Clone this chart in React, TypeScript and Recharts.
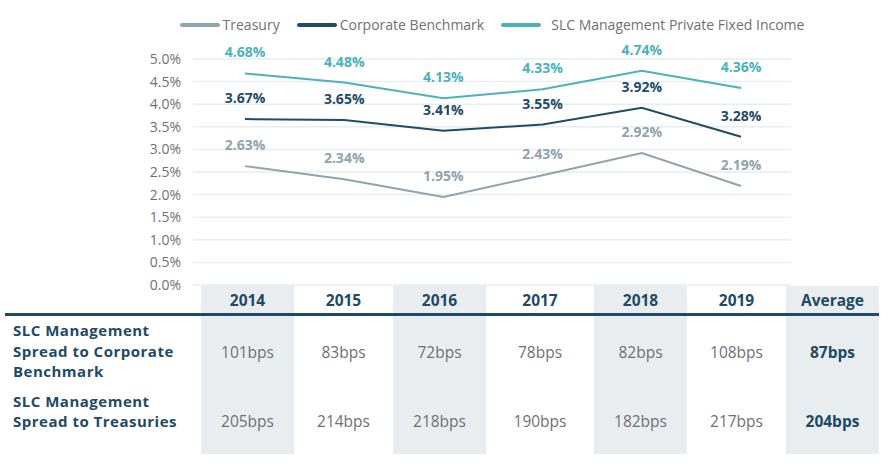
import { CartesianGrid, LabelList, Line, LineChart, XAxis, YAxis } from 'recharts';

const years = ['2014', '2015', '2016', '2017', '2018', '2019'];
const treasury = [2.63, 2.34, 1.95, 2.43, 2.92, 2.19];
const corporate = [3.67, 3.65, 3.41, 3.55, 3.92, 3.28];
const slcPrivate = [4.68, 4.48, 4.13, 4.33, 4.74, 4.36];
const yTicks = [0, 0.5, 1, 1.5, 2, 2.5, 3, 3.5, 4, 4.5, 5];

const tableColumns = [...years, 'Average'];
const spreadToCorporate = [101, 83, 72, 78, 82, 108, 87];
const spreadToTreasuries = [205, 214, 218, 190, 182, 217, 204];
const rowLabels = [
  ['SLC Management', 'Spread to Corporate', 'Benchmark'],
  ['SLC Management', 'Spread to Treasuries'],
];

const navy = '#1e4a66';
const grayText = '#6f7072';
const shade = '#e9edf0';
const font = '"Open Sans", "DejaVu Sans", sans-serif';

const series = [
  { key: 'treasury', name: 'Treasury', color: '#8fa4ac', values: treasury },
  { key: 'corporate', name: 'Corporate Benchmark', color: '#1f4b68', values: corporate },
  { key: 'slc', name: 'SLC Management Private Fixed Income', color: '#4bb2bd', values: slcPrivate },
];

const chartData = years.map((year, i) => ({
  year,
  treasury: treasury[i],
  corporate: corporate[i],
  slc: slcPrivate[i],
}));

// column widths of the table under the plot (label column first)
const colWidths = [201, 93, 99, 93, 108, 93, 99, 93];

function ChartLegend() {
  return (
    <div
      style={{
        position: 'absolute',
        top: 15,
        left: 92,
        width: 800,
        display: 'flex',
        justifyContent: 'center',
        alignItems: 'center',
        gap: 17,
        fontSize: 14,
        color: grayText,
        whiteSpace: 'nowrap',
      }}
    >
      {series.map((s, i) => (
        <div key={s.key} style={{ display: 'flex', alignItems: 'center' }}>
          <span
            style={{
              display: 'inline-block',
              width: 40,
              height: 4,
              borderRadius: 2,
              background: s.color,
              marginRight: i === 2 ? 10 : 3,
            }}
          />
          <span>{s.name}</span>
        </div>
      ))}
    </div>
  );
}

function SpreadTable() {
  const rows = [spreadToCorporate, spreadToTreasuries];
  const rowHeights = [74, 66];
  const cellBg = (col: number) => (col % 2 === 1 ? shade : 'transparent');

  return (
    <div style={{ position: 'absolute', top: 286, left: 0 }}>
      <div style={{ display: 'flex', height: 28 }}>
        {colWidths.map((w, c) => (
          <div
            key={c}
            style={{
              width: w,
              background: cellBg(c),
              display: 'flex',
              alignItems: 'center',
              justifyContent: 'center',
              fontWeight: 700,
              fontSize: 15.5,
              color: navy,
            }}
          >
            {c > 0 ? tableColumns[c - 1] : ''}
          </div>
        ))}
      </div>
      {rows.map((values, r) => (
        <div key={r} style={{ display: 'flex', height: rowHeights[r] }}>
          {colWidths.map((w, c) => {
            if (c === 0) {
              return (
                <div
                  key={c}
                  style={{
                    width: w,
                    paddingLeft: 13,
                    boxSizing: 'border-box',
                    display: 'flex',
                    flexDirection: 'column',
                    justifyContent: 'center',
                    fontWeight: 700,
                    fontSize: 15,
                    lineHeight: '20.5px',
                    letterSpacing: 0.5,
                    color: navy,
                    paddingBottom: r === 1 ? 20 : 0,
                    whiteSpace: 'nowrap',
                  }}
                >
                  {rowLabels[r].map((line) => (
                    <div key={line}>{line}</div>
                  ))}
                </div>
              );
            }
            const isAvg = c === colWidths.length - 1;
            return (
              <div
                key={c}
                style={{
                  width: w,
                  background: cellBg(c),
                  display: 'flex',
                  alignItems: 'center',
                  justifyContent: 'center',
                  fontSize: 15.5,
                  fontWeight: isAvg ? 700 : 400,
                  color: isAvg ? navy : grayText,
                  paddingTop: r === 0 ? 2 : 0,
                  boxSizing: 'border-box',
                }}
              >
                {`${values[c - 1]}bps`}
              </div>
            );
          })}
        </div>
      ))}
      <div
        style={{
          position: 'absolute',
          top: 27,
          left: 5,
          width: 874,
          height: 2.5,
          background: navy,
        }}
      />
    </div>
  );
}

export default function App() {
  return (
    <div
      style={{
        position: 'absolute',
        left: 0,
        top: 0,
        width: 894,
        height: 470,
        background: '#ffffff',
        fontFamily: font,
      }}
    >
      <LineChart
        width={894}
        height={296}
        data={chartData}
        margin={{ top: 59, right: 103, bottom: 11, left: 0 }}
      >
        <CartesianGrid vertical={false} stroke="#e8edf1" strokeWidth={1.5} />
        <XAxis dataKey="year" hide padding={{ left: 52, right: 50 }} />
        <YAxis
          width={193}
          domain={[0, 5]}
          ticks={yTicks}
          interval={0}
          axisLine={false}
          tickLine={false}
          tickMargin={6}
          tick={{ fill: grayText, fontSize: 14 }}
          tickFormatter={(v: number) => `${v.toFixed(1)}%`}
        />
        {series.map((s) => (
          <Line
            key={s.key}
            type="linear"
            dataKey={s.key}
            name={s.name}
            stroke={s.color}
            strokeWidth={2}
            dot={false}
            isAnimationActive={false}
          >
            <LabelList
              dataKey={s.key}
              position="top"
              offset={16}
              fill={s.color}
              stroke="none"
              fontSize={14}
              fontWeight={700}
              formatter={(v: number) => `${Number(v).toFixed(2)}%`}
            />
          </Line>
        ))}
      </LineChart>
      <ChartLegend />
      <SpreadTable />
    </div>
  );
}
